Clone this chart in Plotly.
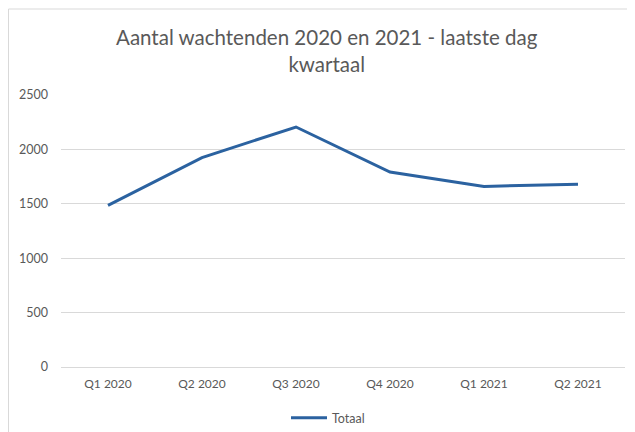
import plotly.graph_objects as go

categories = ["Q1 2020", "Q2 2020", "Q3 2020", "Q4 2020", "Q1 2021", "Q2 2021"]
totaal = [1486, 1925, 2206, 1792, 1660, 1679]
y_ticks = [0, 500, 1000, 1500, 2000, 2500]

# the page body has an 8px margin, so the figure starts at page (8, 8)
W, H = 627, 424
ML, MR, MT, MB = 53, 10, 87, 65
pw = W - ML - MR
ph = H - MT - MB

def px_x(x):
    return (x - ML) / pw

def px_y(y):
    return (H - MB - y) / ph

grey = "#595959"
fig = go.Figure()
fig.add_trace(go.Scatter(
    x=categories, y=totaal, mode="lines", name="Totaal",
    line=dict(color="#2b62a0", width=3),
))

fig.update_layout(
    width=W, height=H,
    margin=dict(l=ML, r=MR, t=MT, b=MB, autoexpand=False),
    paper_bgcolor="white", plot_bgcolor="white",
    font=dict(family="Lato, Liberation Sans, sans-serif", size=12, color=grey),
    showlegend=True,
    legend=dict(orientation="h", x=px_x(320), xanchor="center",
                y=px_y(410), yanchor="middle", itemwidth=36,
                font=dict(size=12.5, color=grey), bgcolor="rgba(0,0,0,0)"),
    xaxis=dict(range=[-0.5, 5.5], showgrid=False, showline=False,
               zeroline=False, ticks="",
               tickfont=dict(size=12, color=grey), ticklabelstandoff=8,
               fixedrange=True),
    yaxis=dict(range=[0, 2500], tickvals=y_ticks, showgrid=True,
               gridcolor="#d9d9d9", gridwidth=1, zeroline=True,
               zerolinecolor="#d9d9d9", zerolinewidth=1, showline=False,
               ticks="", tickfont=dict(size=12.5, color=grey),
               ticklabelstandoff=12, fixedrange=True),
    shapes=[dict(type="rect", xref="paper", yref="paper",
                 x0=px_x(0.5), x1=px_x(700), y0=px_y(1), y1=px_y(500),
                 line=dict(color="#d9d9d9", width=1), fillcolor="rgba(0,0,0,0)",
                 layer="below")],
    annotations=[
        dict(text="Aantal wachtenden 2020 en 2021 - laatste dag<br>kwartaal",
             xref="paper", yref="paper", x=px_x(319), y=px_y(43),
             xanchor="center", yanchor="middle", showarrow=False,
             font=dict(size=20.5, color=grey,
                       family="Lato, Liberation Sans, sans-serif")),
    ],
)

fig.write_html("out.html")
